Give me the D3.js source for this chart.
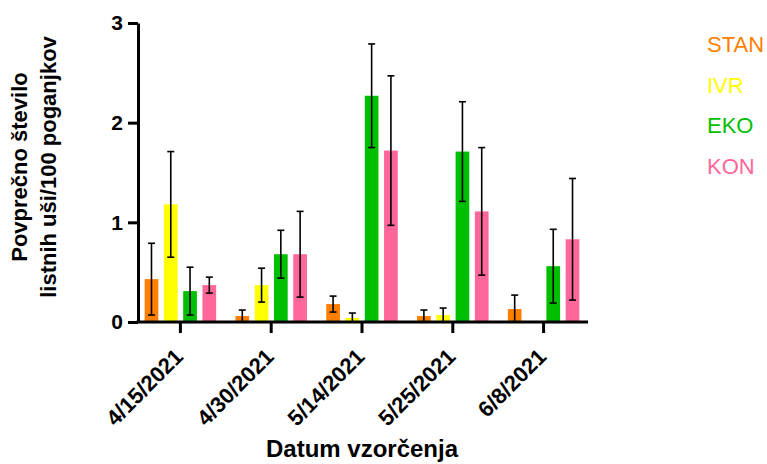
<!DOCTYPE html>
<html>
<head>
<meta charset="utf-8">
<script src="https://cdn.jsdelivr.net/npm/d3@7"></script>
<style>
  body { margin: 0; background: #fff; }
  text { font-family: Arial, "Liberation Sans", sans-serif; }
</style>
</head>
<body>
<svg id="chart" width="767" height="464"></svg>
<script>
// sampling dates and treatments
const dates = ["4/15/2021", "4/30/2021", "5/14/2021", "5/25/2021", "6/8/2021"];
const groups = ["STAN", "IVR", "EKO", "KON"];
const colors = ["#FF7F00", "#FFFF00", "#00BF00", "#FF6699"];

// mean values per treatment (one entry per date)
const stan = [0.43, 0.06, 0.18, 0.06, 0.13];
const ivr  = [1.18, 0.37, 0.04, 0.07, 0.00];
const eko  = [0.31, 0.68, 2.27, 1.71, 0.56];
const kon  = [0.37, 0.68, 1.72, 1.11, 0.83];

// error (+/-) per treatment
const stanErr = [0.36, 0.06, 0.08, 0.06, 0.14];
const ivrErr  = [0.53, 0.17, 0.05, 0.07, 0.00];
const ekoErr  = [0.24, 0.24, 0.52, 0.50, 0.37];
const konErr  = [0.08, 0.43, 0.75, 0.64, 0.61];

const yTicks = [0, 1, 2, 3];

const means = [stan, ivr, eko, kon];
const errs = [stanErr, ivrErr, ekoErr, konErr];

const rows = [];
dates.forEach((d, i) => {
    groups.forEach((g, j) => {
        rows.push({ date: d, group: g, value: means[j][i], err: errs[j][i], color: colors[j] });
    });
});

const svg = d3.select("#chart");
const plotLeft = 138, plotRight = 588, plotTop = 23, plotBottom = 322;

// groups are spaced a little wider than the drawn axis
const x = d3.scaleBand().domain(dates).range([135, 589]).paddingInner(0).paddingOuter(0);
const xInner = d3.scaleBand().domain(groups).range([0, x.bandwidth()]).paddingInner(0.29).paddingOuter(0.5);
const y = d3.scaleLinear().domain([0, 3]).range([plotBottom, plotTop]);

// bars
svg.append("g")
    .selectAll("rect")
    .data(rows)
    .join("rect")
    .attr("x", d => x(d.date) + xInner(d.group))
    .attr("width", xInner.bandwidth())
    .attr("y", d => y(d.value))
    .attr("height", d => y(0) - y(d.value))
    .attr("fill", d => d.color);

// error bars
const eb = svg.append("g")
    .selectAll("g")
    .data(rows.filter(d => d.err > 0))
    .join("g")
    .attr("stroke", "#000")
    .attr("stroke-width", 1.6);
const cx = d => x(d.date) + xInner(d.group) + xInner.bandwidth() / 2;
eb.append("line")
    .attr("x1", cx).attr("x2", cx)
    .attr("y1", d => y(d.value + d.err))
    .attr("y2", d => y(Math.max(0, d.value - d.err)));
eb.append("line")
    .attr("x1", d => cx(d) - 3.5).attr("x2", d => cx(d) + 3.5)
    .attr("y1", d => y(d.value + d.err)).attr("y2", d => y(d.value + d.err));
eb.filter(d => d.value - d.err > 0).append("line")
    .attr("x1", d => cx(d) - 3.5).attr("x2", d => cx(d) + 3.5)
    .attr("y1", d => y(d.value - d.err)).attr("y2", d => y(d.value - d.err));

// y axis
const yAxis = svg.append("g")
    .attr("transform", `translate(${plotLeft},0)`)
    .call(d3.axisLeft(y).tickValues(yTicks).tickFormat(d3.format("d")).tickSize(10).tickSizeOuter(0));
yAxis.select(".domain").attr("stroke-width", 3);
yAxis.selectAll(".tick line").attr("stroke-width", 3);
yAxis.selectAll(".tick text")
    .attr("font-size", 21).attr("font-weight", "bold").attr("x", -15).attr("fill", "#000");

// x axis
const xAxis = svg.append("g")
    .attr("transform", `translate(0,${plotBottom})`)
    .call(d3.axisBottom(x).tickSize(11).tickSizeOuter(0));
xAxis.select(".domain").remove();
xAxis.append("line")
    .attr("x1", plotLeft - 1.5).attr("x2", plotRight)
    .attr("stroke", "#000").attr("stroke-width", 3);
xAxis.selectAll(".tick line").attr("stroke-width", 3);
xAxis.selectAll(".tick text")
    .attr("font-size", 22).attr("font-weight", "bold").attr("fill", "#000")
    .attr("text-anchor", "end")
    .attr("dy", 0).attr("y", 0)
    .attr("transform", "translate(4,36) rotate(-45)");

// axis titles
svg.append("text")
    .attr("x", 362).attr("y", 457)
    .attr("text-anchor", "middle")
    .attr("font-size", 24).attr("font-weight", "bold")
    .text("Datum vzorčenja");

const yt = svg.append("text")
    .attr("transform", "translate(0,167) rotate(-90)")
    .attr("text-anchor", "middle")
    .attr("font-size", 22).attr("font-weight", "bold");
yt.append("tspan").attr("x", 0).attr("y", 27).text("Povprečno število");
yt.append("tspan").attr("x", 0).attr("y", 56).text("listnih uši/100 poganjkov");

// legend
svg.append("g")
    .selectAll("text")
    .data(groups)
    .join("text")
    .attr("x", 707)
    .attr("y", (d, i) => 52 + i * 40.5)
    .attr("font-size", 22)
    .attr("fill", (d, i) => colors[i])
    .text(d => d);
</script>
</body>
</html>
